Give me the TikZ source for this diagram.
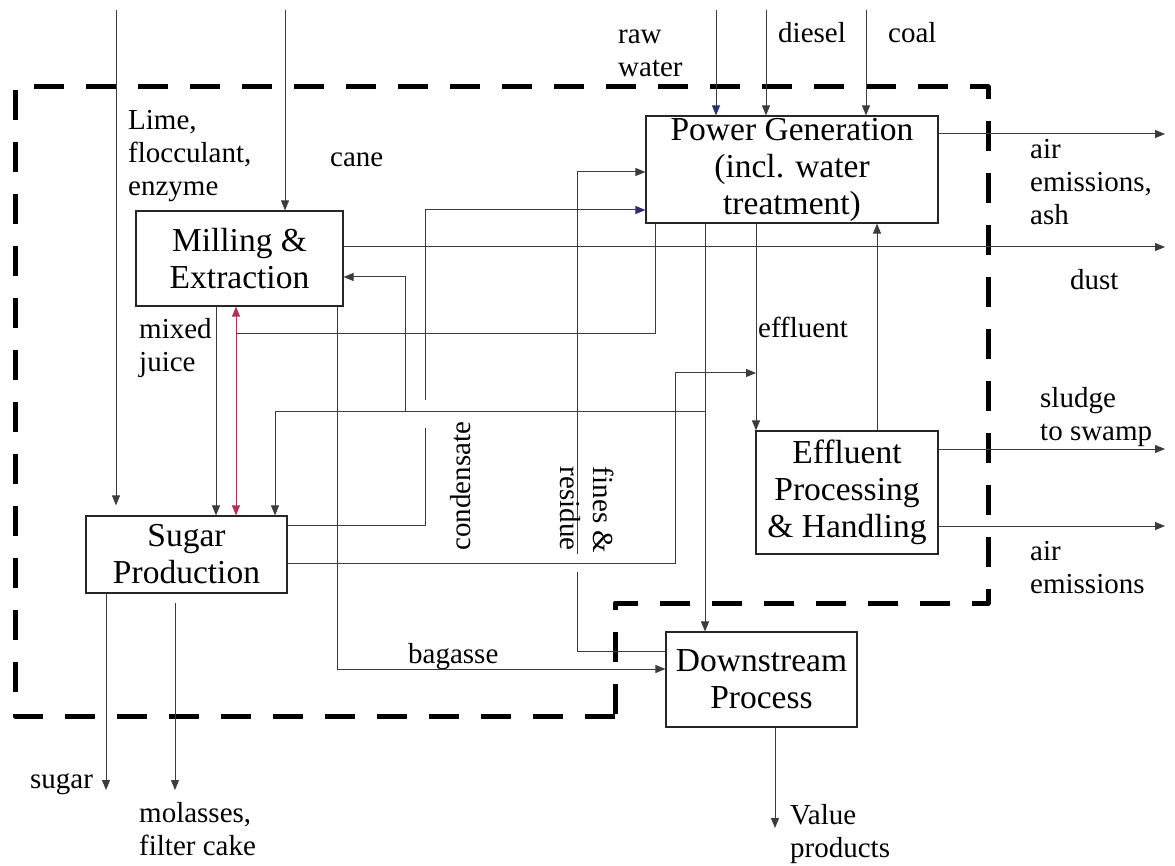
\documentclass[tikz,border=0pt]{standalone}
\usepackage{fontspec}
\setmainfont{Liberation Serif}
\usetikzlibrary{arrows.meta}
\definecolor{lncol}{RGB}{60,60,60}
\definecolor{redln}{RGB}{176,48,90}
\definecolor{bluetip}{RGB}{45,45,115}
\tikzset{
  box/.style={draw=black!85, line width=1.2pt, inner sep=0pt, align=center, font=\fontsize{33.5}{37}\selectfont},
  lbl/.style={inner sep=0pt, align=left, font=\fontsize{29}{33}\selectfont, anchor=base west},
  conn/.style={draw=lncol, line width=1pt},
  arr/.style={conn, -{Triangle[length=10pt,width=8pt]}},
  barr/.style={conn, -{Triangle[length=10pt,width=8pt,color=bluetip]}},
  redarr/.style={draw=redln, line width=1pt, {Triangle[length=10pt,width=8pt]}-{Triangle[length=10pt,width=8pt]}},
  boundary/.style={draw=black, line width=5pt, dash pattern=on 30pt off 22pt, line join=round},
  gap/.style={draw=white, line width=4pt}
}
\begin{document}
\begin{tikzpicture}[x=1pt,y=-1pt]
\useasboundingbox (0,0) rectangle (1175,866);
\fill[white] (0,0) rectangle (1175,866);

% boundary
\draw[boundary] (615,716) -- (15,716) -- (15,87) -- (988,87) -- (988,603) -- (615,603) -- cycle;

% boxes
\node[box, minimum width=207pt, minimum height=95pt] (mill) at (239.5,258.5) {Milling \&\\Extraction};
\node[box, minimum width=292pt, minimum height=107pt] (pow) at (792,169.5) {Power Generation\\(incl. water\\treatment)};
\node[box, minimum width=201pt, minimum height=77pt] (sug) at (186.5,554.5) {Sugar\\Production};
\node[box, minimum width=182pt, minimum height=123pt] (eff) at (847,492.5) {Effluent\\Processing\\\& Handling};
\node[box, minimum width=191pt, minimum height=95pt] (down) at (761.5,679.5) {Downstream\\Process};

% routing coordinates
\coordinate (xlime) at (116,10);
\coordinate (xcane) at (285,10);
\coordinate (xmix) at (216,0);
\coordinate (xred) at (236,0);
\coordinate (steamc) at (236,334);
\coordinate (xsteam) at (655,0);
\coordinate (xbag) at (337,0);
\coordinate (ybag) at (0,669);
\coordinate (xpd) at (705,0);
\coordinate (jpd) at (705,411);
\coordinate (jsug) at (275,411);
\coordinate (jmil) at (405,411);
\coordinate (ymil) at (0,277);
\coordinate (ydust) at (1165,247);
\coordinate (ycond) at (0,525);
\coordinate (xcond) at (425,0);
\coordinate (ycondp) at (0,210);
\coordinate (ysg2) at (0,563);
\coordinate (xsg2) at (675,0);
\coordinate (ysg2b) at (0,373);
\coordinate (xeffl) at (756,0);
\coordinate (yfin) at (0,651);
\coordinate (xfin) at (577,0);
\coordinate (yfinp) at (0,172);
\coordinate (xeffr) at (877,0);
\coordinate (yair) at (1165,134);
\coordinate (ysl) at (1165,449);
\coordinate (yae) at (1165,526);
\coordinate (xraw) at (716,10);
\coordinate (xdie) at (766,10);
\coordinate (xcoal) at (866,10);
\coordinate (sugend) at (106,790);
\coordinate (molend) at (175,790);
\coordinate (valend) at (775,828);

% inputs from top
\draw[arr, shorten >=10pt] (xlime) -- (xlime |- sug.north);
\draw[arr] (xcane) -- (xcane |- mill.north);
\draw[barr] (xraw) -- (xraw |- pow.north);
\draw[arr] (xdie) -- (xdie |- pow.north);
\draw[arr] (xcoal) -- (xcoal |- pow.north);

% mixed juice and red recycle
\draw[arr] (mill.south -| xmix) -- (sug.north -| xmix);
\draw[redarr] (mill.south -| xred) -- (sug.north -| xred);
\draw[conn] (pow.south -| xsteam) |- (steamc);

% bagasse
\draw[arr] (mill.south -| xbag) |- (down.west |- ybag);

% dust
\draw[arr] (mill.east |- ydust) -- (ydust);

% condensate (from sugar to power), with gap
\draw[barr] (sug.east |- ycond) -| (xcond |- ycondp) -- (pow.west |- ycondp);
\draw[gap] (425,400) -- (425,428);

% fines & residue
\draw[arr] (down.west |- yfin) -| (xfin |- yfinp) -- (pow.west |- yfinp);
\draw[gap] (577,554) -- (577,572);

% power to downstream, sugar, milling
\draw[arr] (pow.south -| xpd) -- (down.north -| xpd);
\draw[conn] (jpd) -- (jsug);
\draw[arr] (jsug) -- (jsug |- sug.north);
\draw[arr] (jmil) |- (mill.east |- ymil);

% sugar to effluent line
\draw[arr] (sug.east |- ysg2) -| (xsg2 |- ysg2b) -- (xeffl |- ysg2b);

% effluent
\draw[arr] (pow.south -| xeffl) -- (eff.north -| xeffl);
\draw[arr] (eff.north -| xeffr) -- (pow.south -| xeffr);

% outputs to right
\draw[arr] (pow.east |- yair) -- (yair);
\draw[arr] (eff.east |- ysl) -- (ysl);
\draw[arr] (eff.east |- yae) -- (yae);

% outputs at bottom
\draw[arr] (sug.south -| sugend) -- (sugend);
\draw[arr, shorten <=9pt] (sug.south -| molend) -- (molend);
\draw[arr] (down.south -| valend) -- (valend);

% labels (base = baseline of last line)
\node[lbl] (llime) at (128,196) {Lime,\\flocculant,\\enzyme};
\node[lbl] (lcane) at (330,167) {cane};
\node[lbl] (lraw) at (618,77) {raw\\water};
\node[lbl] (ldie) at (778,43) {diesel};
\node[lbl] (lcoal) at (888,43) {coal};
\node[lbl] (lair) at (1030,225) {air\\emissions,\\ash};
\node[lbl] (ldust) at (1070,290) {dust};
\node[lbl] (lmix) at (139,372) {mixed\\juice};
\node[lbl] (leffl) at (758,338) {effluent};
\node[inner sep=0pt, font=\fontsize{29}{33}\selectfont, rotate=90] (lcond) at (461,486) {condensate};
\node[inner sep=0pt, align=left, font=\fontsize{29}{33}\selectfont, rotate=-90] (lfin) at (587,510) {fines \&\\residue};
\node[lbl] (lbag) at (408,663) {bagasse};
\node[lbl] (lsl) at (1040,440) {sludge\\to swamp};
\node[lbl] (lae) at (1030,593) {air\\emissions};
\node[lbl] (lsug) at (30,788) {sugar};
\node[lbl] (lmol) at (139,855) {molasses,\\filter cake};
\node[lbl] (lval) at (790,857) {Value\\products};
\end{tikzpicture}
\end{document}
